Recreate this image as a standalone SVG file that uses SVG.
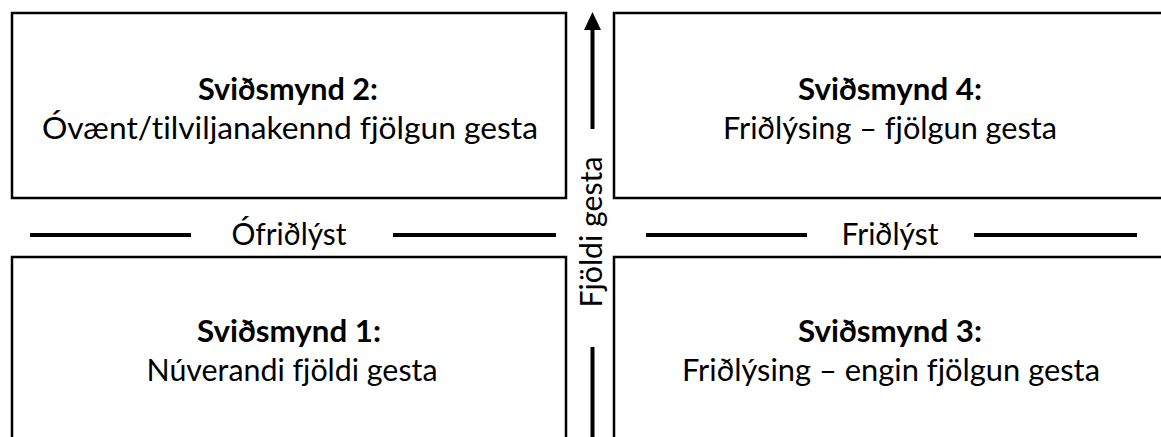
<svg xmlns="http://www.w3.org/2000/svg" width="1161" height="437" viewBox="0 0 1161 437">
<defs>
<style>
.box{fill:#fff;stroke:#000;stroke-width:2.5}
.t{font-family:Lato,"Open Sans","Liberation Sans",sans-serif;font-size:31px;fill:#000;text-anchor:middle;font-variant-ligatures:none;font-feature-settings:"liga" 0,"dlig" 0}
.b{font-weight:bold}
.axis{stroke:#000;stroke-width:4;fill:none}
</style>
</defs>
<rect width="1161" height="437" fill="#fff"/>
<g id="scenario2">
<rect class="box" x="12" y="13" width="554" height="185"/>
<text class="t b" x="288" y="100" textLength="180" lengthAdjust="spacingAndGlyphs">Sviðsmynd 2:</text>
<text class="t" x="290" y="139" textLength="496" lengthAdjust="spacingAndGlyphs">Óvænt/tilviljanakennd fjölgun gesta</text>
</g>
<g id="scenario4">
<rect class="box" x="614" y="13" width="600" height="185"/>
<text class="t b" x="890" y="100" textLength="184" lengthAdjust="spacingAndGlyphs">Sviðsmynd 4:</text>
<text class="t" x="890" y="139" textLength="334" lengthAdjust="spacingAndGlyphs">Friðlýsing – fjölgun gesta</text>
</g>
<g id="scenario1">
<rect class="box" x="12" y="257" width="554" height="200"/>
<text class="t b" x="289" y="342" textLength="184" lengthAdjust="spacingAndGlyphs">Sviðsmynd 1:</text>
<text class="t" x="292" y="381" textLength="291" lengthAdjust="spacingAndGlyphs">Núverandi fjöldi gesta</text>
</g>
<g id="scenario3">
<rect class="box" x="614" y="257" width="600" height="200"/>
<text class="t b" x="890" y="342" textLength="184" lengthAdjust="spacingAndGlyphs">Sviðsmynd 3:</text>
<text class="t" x="891" y="381" textLength="418" lengthAdjust="spacingAndGlyphs">Friðlýsing – engin fjölgun gesta</text>
</g>
<g id="connectors">
<line class="axis" x1="30" y1="235" x2="191" y2="235"/>
<line class="axis" x1="393" y1="235" x2="556" y2="235"/>
<line class="axis" x1="646" y1="235" x2="807" y2="235"/>
<line class="axis" x1="974" y1="235" x2="1137" y2="235"/>
<line class="axis" x1="592.5" y1="129" x2="592.5" y2="28" stroke-width="4.5"/>
<polygon points="592.5,12 584,30 601,30" fill="#000"/>
<line class="axis" x1="592.5" y1="347" x2="592.5" y2="440" stroke-width="4.5"/>
</g>
<g id="axis-labels">
<text class="t" x="289" y="245" textLength="115" lengthAdjust="spacingAndGlyphs">Ófriðlýst</text>
<text class="t" x="890" y="245" textLength="97" lengthAdjust="spacingAndGlyphs">Friðlýst</text>
<text class="t" transform="translate(602,232) rotate(-90)" x="0" y="0" textLength="151" lengthAdjust="spacingAndGlyphs">Fjöldi gesta</text>
</g>
</svg>
